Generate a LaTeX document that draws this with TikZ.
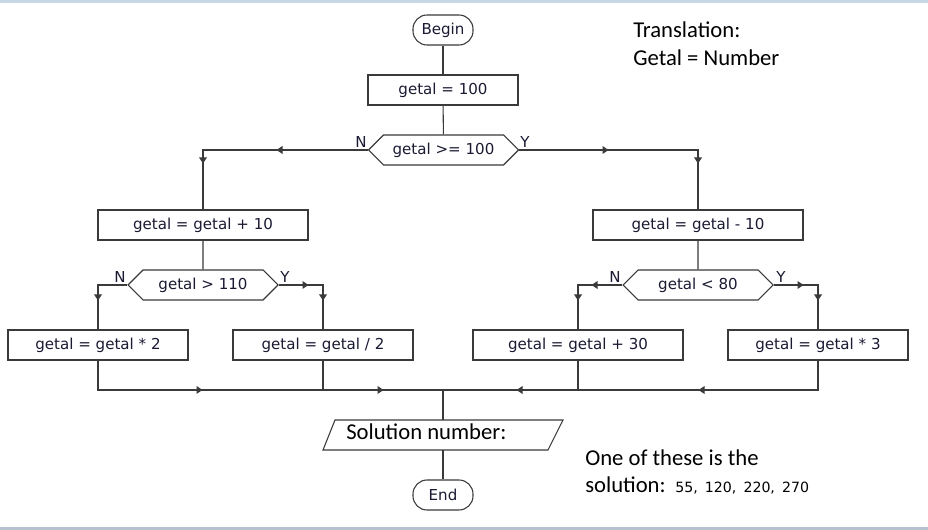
\documentclass[tikz,border=0pt]{standalone}
\usepackage{fontspec}
\setmainfont{DejaVu Sans}
\newfontfamily\calfont{Carlito}
\usetikzlibrary{shapes.symbols,calc}
\definecolor{linec}{HTML}{3A3A3A}
\definecolor{txtc}{HTML}{1A1A33}
\definecolor{topbar}{HTML}{C8D7E6}
\definecolor{botbar}{HTML}{B7C1CF}
\tikzset{
  arrR/.pic={\fill[linec] (3.5,0) -- (-2.5,-4) -- (-2.5,4) -- cycle;},
  arrL/.pic={\fill[linec] (-3.5,0) -- (2.5,-4) -- (2.5,4) -- cycle;},
  arrD/.pic={\fill[linec] (0,3.5) -- (-4,-2.5) -- (4,-2.5) -- cycle;},
}
\begin{document}
\begin{tikzpicture}[x=0.75pt,y=-0.75pt,
  every node/.style={font=\fontsize{11.3}{13}\selectfont, text=txtc},
  proc/.style={draw=linec, line width=0.8pt, rectangle, minimum height=22.5pt, inner sep=0pt},
  term/.style={draw=linec, line width=0.8pt, rectangle, rounded corners=10.5pt, minimum width=45pt, minimum height=22.5pt, inner sep=0pt},
  dec/.style={draw=linec, line width=0.8pt, signal, signal to=east and west, signal pointer angle=90, minimum width=112.5pt, minimum height=22.5pt, inner sep=0pt},
  conn/.style={draw=linec, line width=0.8pt},
  lbl/.style={font=\fontsize{11.3}{13}\selectfont, inner sep=0pt},
  note/.style={font=\calfont\fontsize{17}{20}\selectfont, text=black, inner sep=0pt, anchor=base west},
]
\fill[white] (0,0) rectangle (928,530);
\useasboundingbox (0,0) rectangle (928,530);
\fill[topbar] (0,0) rectangle (928,3);
\fill[botbar] (0,527) rectangle (928,530);

% nodes
\node[term] (begin) at (443,30) {Begin};
\node[proc, minimum width=112.5pt] (init) at (443,90) {getal = 100};
\node[dec] (d1) at (443.5,150) {getal >= 100};
\node[proc, minimum width=157.5pt] (l1) at (203,225) {getal = getal + 10};
\node[proc, minimum width=157.5pt] (r1) at (698,225) {getal = getal - 10};
\node[dec] (d2) at (203,285) {getal > 110};
\node[dec] (d3) at (698,285) {getal < 80};
\node[proc, minimum width=135pt] (ll) at (98,345) {getal = getal * 2};
\node[proc, minimum width=135pt] (lr) at (323,345) {getal = getal / 2};
\node[proc, minimum width=157.5pt] (rl) at (578,345) {getal = getal + 30};
\node[proc, minimum width=135pt] (rr) at (818,345) {getal = getal * 3};
\node[minimum width=150pt, minimum height=22.5pt, inner sep=0pt] (sol) at (443,435) {};
\draw[linec, line width=0.8pt] (335,420) -- (563,420) -- (548,450) -- (323,450) -- cycle;
\node[note] (soltxt) at (346,440) {Solution number:};
\node[term] (end) at (443,495) {End};

% coordinates
\coordinate (c1L) at (203,150);
\coordinate (c1R) at (698,150);
\coordinate (c2L) at (98,285);
\coordinate (c2R) at (323,285);
\coordinate (c3L) at (578,285);
\coordinate (c3R) at (818,285);
\coordinate (bLL) at (98,390);
\coordinate (bLR) at (323,390);
\coordinate (bRL) at (578,390);
\coordinate (bRR) at (818,390);
\coordinate (m) at (443,390);

% connectors
\draw[conn] (begin) -- (init);
\draw[conn] (init) -- (d1);
\draw[conn] (d1.west) -- (c1L) -- (l1.north);
\draw[conn] (d1.east) -- (c1R) -- (r1.north);
\draw[conn] (l1) -- (d2);
\draw[conn] (r1) -- (d3);
\draw[conn] (d2.west) -- (c2L) -- (ll.north);
\draw[conn] (d2.east) -- (c2R) -- (lr.north);
\draw[conn] (d3.west) -- (c3L) -- (rl.north);
\draw[conn] (d3.east) -- (c3R) -- (rr.north);
\draw[conn] (ll.south) -- (bLL) -- (m);
\draw[conn] (lr.south) -- (bLR);
\draw[conn] (rr.south) -- (bRR) -- (m);
\draw[conn] (rl.south) -- (bRL);
\draw[conn] (m) -- (sol.north);
\draw[conn] (sol.south) -- (end);

% arrow marks
\path (280,150) pic{arrL} (203,160) pic{arrD}
      (605,150) pic{arrR} (698,160) pic{arrD}
      (98,297) pic{arrD} (305,285) pic{arrR} (323,297) pic{arrD}
      (595,285) pic{arrL} (578,297) pic{arrD} (800,285) pic{arrR} (818,297) pic{arrD}
      (199,390) pic{arrR} (380,390) pic{arrR} (520,390) pic{arrL} (702,390) pic{arrL};

% labels
\node[lbl] (n1) at (361,142) {N};
\node[lbl] (y1) at (525,142) {Y};
\node[lbl] (n2) at (120,277) {N};
\node[lbl] (y2) at (285,277) {Y};
\node[lbl] (n3) at (615,277) {N};
\node[lbl] (y3) at (781,277) {Y};

% notes
\node[note] (t1) at (633,38) {Translation:};
\node[note] (t2) at (633,66) {Getal = Number};
\node[note] (o1) at (585,466) {One of these is the};
\node[note] (o2) at (585,493) {solution:};
\node[anchor=base west, inner sep=0pt, text=black, font=\fontsize{10.6}{12}\selectfont] (nums) at (675,493) {55,\hspace{2pt} 120,\hspace{2pt} 220,\hspace{2pt} 270};
\end{tikzpicture}
\end{document}
